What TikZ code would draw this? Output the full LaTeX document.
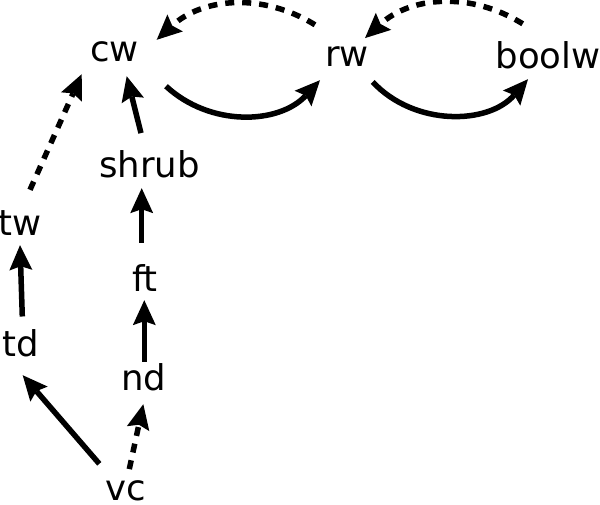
\documentclass[tikz,border=0pt]{standalone}
\usepackage{fontspec}
\setmainfont{DejaVu Sans}
\usetikzlibrary{arrows.meta}
\tikzset{
  lbl/.style={inner sep=0pt, anchor=base, text height=25.8pt, text depth=0pt, font=\fontsize{35.5}{40}\selectfont},
  link/.style={line width=5.5pt, -{Stealth[length=25pt,width=23pt,inset=4pt,line width=0pt]}},
  weak/.style={link, dash pattern=on 9pt off 8pt},
}

\begin{document}
\begin{tikzpicture}[x=1pt,y=-1pt]
\useasboundingbox (0,0) rectangle (600,504);

\node[lbl] (cw) at (114.7,61.7) {cw};
\node[lbl] (rw) at (347,66.7) {rw};
\node[lbl] (boolw) at (548,68) {boolw};
\node[lbl] (shrub) at (149.5,177) {shrub};
\node[lbl] (tw) at (20,235) {tw};
\node[lbl] (ft) at (145,291.7) {ft};
\node[lbl] (td) at (20.5,356) {td};
\node[lbl] (nd) at (144,390.7) {nd};
\node[lbl] (vc) at (126,500) {vc};

\draw[weak] ([xshift=-32pt,yshift=15.9pt]rw.north) to[bend right=37] ([xshift=42pt,yshift=-4.1pt]cw.north);
\draw[link] ([xshift=51.3pt,yshift=-24.3pt]cw.south) to[bend right=45] ([xshift=-27pt,yshift=-13.3pt]rw.south);
\draw[weak] ([xshift=-25.3pt,yshift=18.2pt]boolw.north) to[bend right=37] ([xshift=18pt,yshift=2.6pt]rw.north);
\draw[link] ([xshift=25.7pt,yshift=-15pt]rw.south) to[bend right=48] ([xshift=-20pt,yshift=-11pt]boolw.south);

\draw[link] ([xshift=-8.5pt,yshift=17.9pt]shrub.north) -- ([xshift=12pt,yshift=-14.3pt]cw.south);
\draw[weak] ([xshift=10pt,yshift=19.2pt]tw.north) -- ([xshift=-33pt,yshift=-12.3pt]cw.south);
\draw[link] ([xshift=-3.3pt,yshift=22.9pt]ft.north) -- ([xshift=-7.8pt,yshift=-11pt]shrub.south);
\draw[link] ([xshift=1.8pt,yshift=13.5pt]td.north) -- ([yshift=-10pt]tw.south);
\draw[link] ([xshift=0.3pt,yshift=2.9pt]nd.north) -- ([xshift=-0.7pt,yshift=-8.3pt]ft.south);
\draw[link] ([xshift=-26.7pt,yshift=10.2pt]vc.north) -- ([xshift=2.2pt,yshift=-19pt]td.south);
\draw[weak] ([xshift=3.3pt,yshift=4.9pt]vc.north) -- ([xshift=-0.7pt,yshift=-13.3pt]nd.south);
\end{tikzpicture}
\end{document}
